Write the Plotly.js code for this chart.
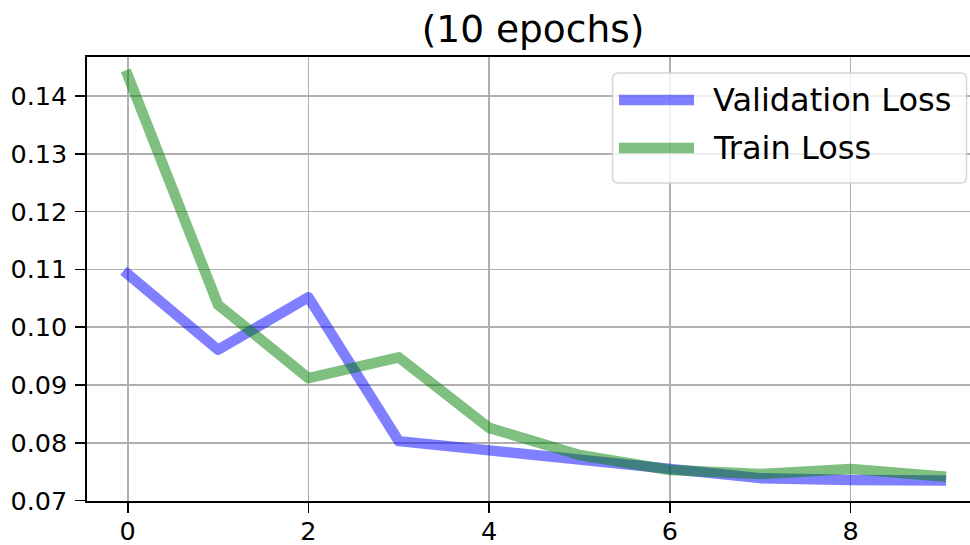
<!DOCTYPE html>
<html>
<head>
<meta charset="utf-8">
<script src="https://cdn.plot.ly/plotly-3.0.1.min.js"></script>
<style>
  html, body { margin: 0; padding: 0; background: #fff; }
  #chart { width: 970px; height: 545px; }
  .scatterlayer .js-line { stroke-linecap: square !important; stroke-linejoin: round !important; }
</style>
</head>
<body>
<div id="chart"></div>
<script>
// ---- Data ----
const epochs = [0, 1, 2, 3, 4, 5, 6, 7, 8, 9];
const validationLoss = [0.1092, 0.0961, 0.1052, 0.0803, 0.0787, 0.0771, 0.0752, 0.0739, 0.0736, 0.0735];
const trainLoss = [0.1436, 0.1039, 0.0912, 0.0948, 0.0826, 0.0779, 0.0753, 0.0746, 0.0755, 0.0742];
const seriesNames = ["Validation Loss", "Train Loss"];
const titleText = "(10 epochs)";
const xTickVals = [0, 2, 4, 6, 8];
const yTickVals = [0.07, 0.08, 0.09, 0.10, 0.11, 0.12, 0.13, 0.14];

// ---- Style ----
const FONT = "DejaVu Sans, Liberation Sans, sans-serif";
const blueCol = "rgba(0,0,255,0.5)";
const greenCol = "rgba(0,128,0,0.5)";
const LW = 10.5;

const W = 970, H = 545;
const M = { l: 87, r: 0, t: 57, b: 44 };
const PW = W - M.l - M.r, PH = H - M.t - M.b;
// pixel -> paper helpers (for legend box placement)
const px = (x) => (x - M.l) / PW;
const py = (y) => (H - M.b - y) / PH;

const traces = [
  { x: epochs, y: validationLoss, name: seriesNames[0], type: "scatter", mode: "lines",
    line: { color: blueCol, width: LW }, hoverinfo: "skip" },
  { x: epochs, y: trainLoss, name: seriesNames[1], type: "scatter", mode: "lines",
    line: { color: greenCol, width: LW }, hoverinfo: "skip" }
];

// legend box (custom, matplotlib-like)
const bx0 = 612.5, bx1 = 966.5, by0 = 73, by1 = 183;
const r = 6;
const rx = r / PW, ry = r / PH;
const X0 = px(bx0), X1 = px(bx1), Yt = py(by0), Yb = py(by1);
const boxPath =
  `M ${X0 + rx},${Yt} L ${X1 - rx},${Yt} Q ${X1},${Yt} ${X1},${Yt - ry} ` +
  `L ${X1},${Yb + ry} Q ${X1},${Yb} ${X1 - rx},${Yb} ` +
  `L ${X0 + rx},${Yb} Q ${X0},${Yb} ${X0},${Yb + ry} ` +
  `L ${X0},${Yt - ry} Q ${X0},${Yt} ${X0 + rx},${Yt} Z`;

const legendRows = [
  { name: seriesNames[0], color: blueCol, y: 100 },
  { name: seriesNames[1], color: greenCol, y: 148 }
];

const shapes = [
  { type: "path", xref: "paper", yref: "paper", path: boxPath, layer: "above",
    fillcolor: "rgba(255,255,255,0.8)", line: { color: "rgba(204,204,204,0.8)", width: 1.5 } }
];
legendRows.forEach(row => {
  shapes.push({ type: "line", xref: "paper", yref: "paper", layer: "above",
    x0: px(619), x1: px(694), y0: py(row.y), y1: py(row.y),
    line: { color: row.color, width: LW } });
});

const annotations = legendRows.map(row => ({
  xref: "paper", yref: "paper", x: px(711.5), y: py(row.y),
  xanchor: "left", yanchor: "middle", showarrow: false, text: row.name,
  font: { family: FONT, size: 32, color: "#000" }, borderpad: 0
}));

const layout = {
  width: W, height: H,
  margin: M,
  paper_bgcolor: "#fff", plot_bgcolor: "#fff",
  showlegend: false,
  font: { family: FONT, color: "#000" },
  title: {
    text: titleText,
    font: { family: FONT, size: 37.5, color: "#000" },
    xref: "paper", x: px(533), xanchor: "center",
    yref: "container", y: 1 - 29 / H, yanchor: "middle"
  },
  xaxis: {
    range: [-0.4505, 9.3226],
    tickmode: "array", tickvals: xTickVals, ticktext: xTickVals.map(String),
    showgrid: true, gridcolor: "#b0b0b0", gridwidth: 1.6,
    zeroline: false,
    showline: true, linecolor: "#000", linewidth: 1.6, mirror: true,
    ticks: "outside", ticklen: 10, tickwidth: 1.6, tickcolor: "#000",
    ticklabelstandoff: -3,
    tickfont: { family: FONT, size: 25.5, color: "#000" }
  },
  yaxis: {
    range: [0.069945, 0.146765],
    tickmode: "array", tickvals: yTickVals, ticktext: yTickVals.map(v => v.toFixed(2)),
    showgrid: true, gridcolor: "#b0b0b0", gridwidth: 1.6,
    zeroline: false,
    showline: true, linecolor: "#000", linewidth: 1.6, mirror: false,
    ticks: "outside", ticklen: 10, tickwidth: 1.6, tickcolor: "#000",
    ticklabelstandoff: 3,
    tickfont: { family: FONT, size: 25.5, color: "#000" }
  },
  shapes: shapes,
  annotations: annotations
};

Plotly.newPlot("chart", traces, layout, { displayModeBar: false, staticPlot: true });
</script>
</body>
</html>
